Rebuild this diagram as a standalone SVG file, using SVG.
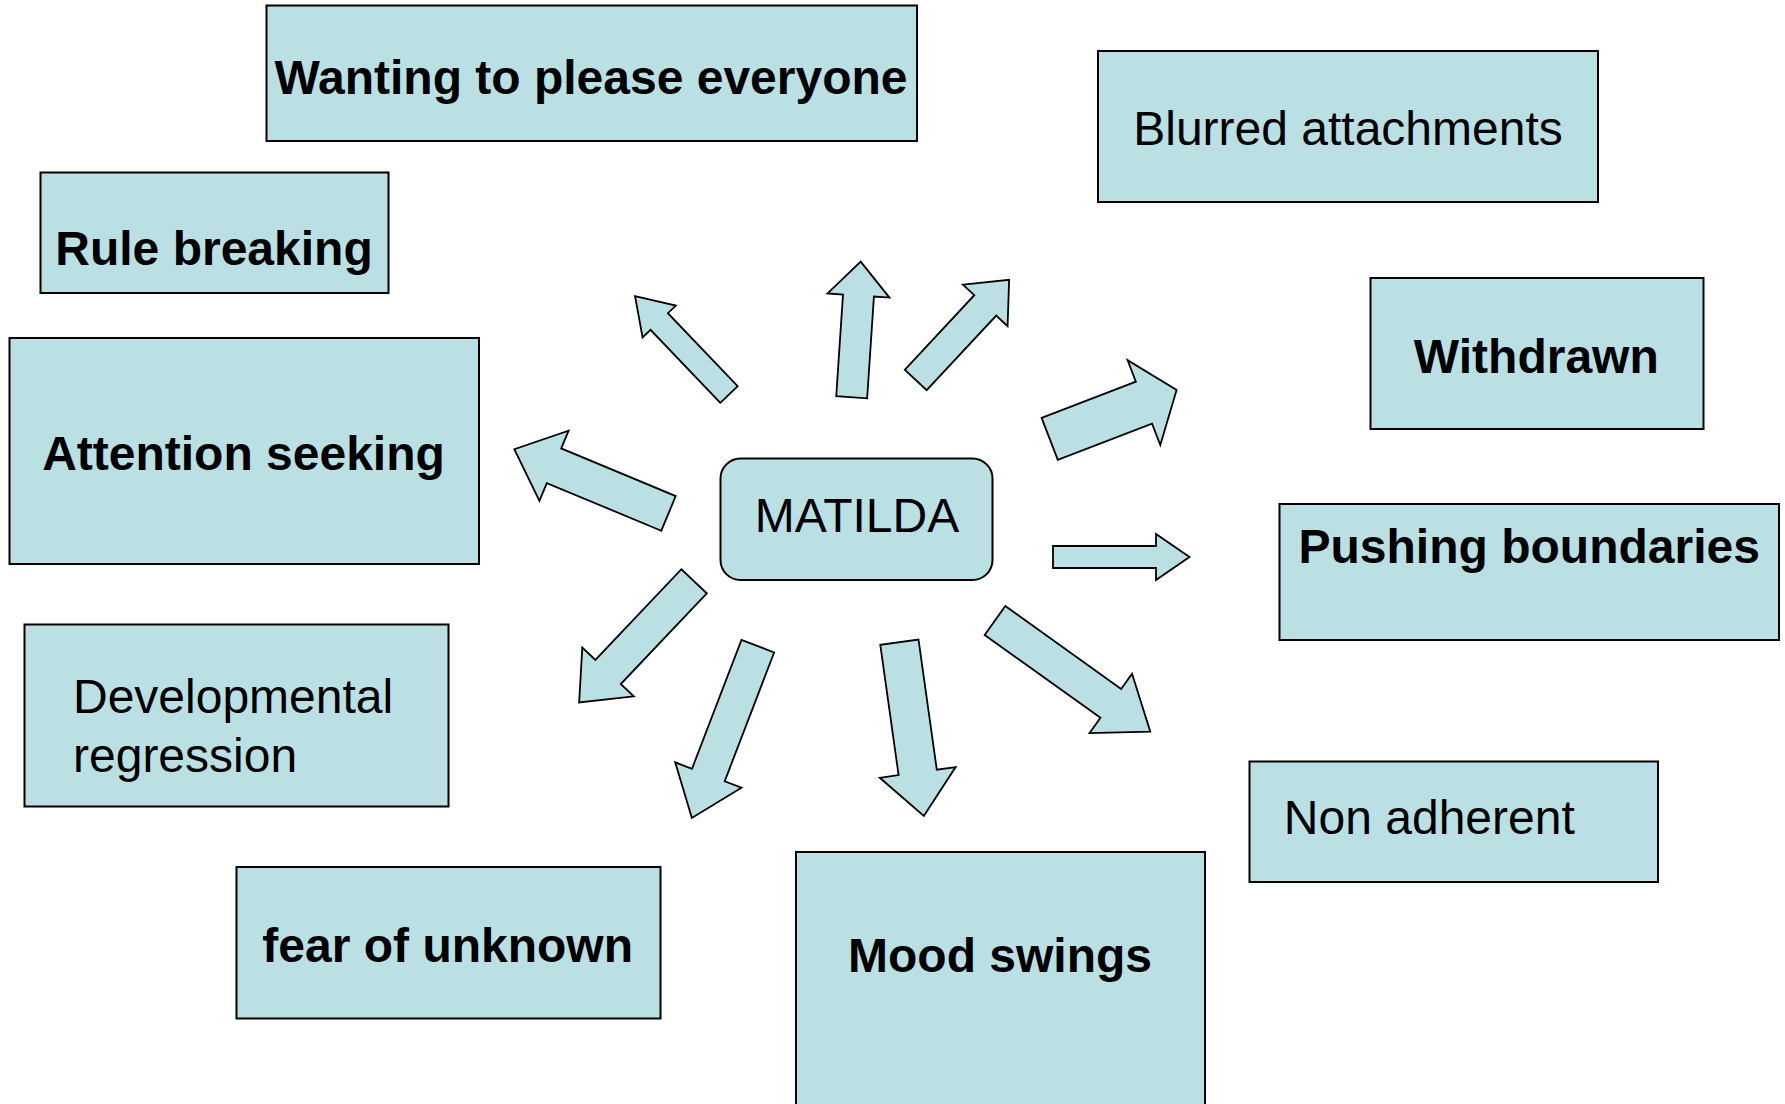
<svg xmlns="http://www.w3.org/2000/svg" width="1785" height="1104" viewBox="0 0 1785 1104">
<style>
.box{fill:#bbe0e3;stroke:#000;stroke-width:2}
.arr{fill:#bbe0e3;stroke:#000;stroke-width:1.8;stroke-linejoin:miter}
.t{font-family:"Liberation Sans",Arial,sans-serif;font-size:48px;fill:#000}
.b{font-weight:bold}
.c{text-anchor:middle}
</style>
<rect width="1785" height="1104" fill="#fff"/>
<g id="connectors">
<polygon class="arr" points="0,-12 101,-12 101,-23 136,0 101,23 101,12 0,12" transform="translate(729,394.5) rotate(-133.7)"/>
<polygon class="arr" points="0,-15.5 102,-15.5 102,-31 136,0 102,31 102,15.5 0,15.5" transform="translate(851.7,397.3) rotate(-86.2)"/>
<polygon class="arr" points="0,-15 102,-15 102,-30.5 137,0 102,30.5 102,15 0,15" transform="translate(915.7,380) rotate(-47)"/>
<polygon class="arr" points="0,-18.75 124,-18.75 124,-38 167,0 124,38 124,18.75 0,18.75" transform="translate(668.5,513.4) rotate(202.6)"/>
<polygon class="arr" points="0,-22.5 101,-22.5 101,-45.5 136,0 101,45.5 101,22.5 0,22.5" transform="translate(1049.7,438.9) rotate(-21.06)"/>
<polygon class="arr" points="1053,546 1156,546 1156,534 1189.5,557 1156,580 1156,568 1053,568"/>
<polygon class="arr" points="0,-17.5 125,-17.5 125,-35.5 167,0 125,35.5 125,17.5 0,17.5" transform="translate(694.1,581.3) rotate(133.5)"/>
<polygon class="arr" points="0,-17.5 138,-17.5 138,-35.5 184,0 138,35.5 138,17.5 0,17.5" transform="translate(757.8,646.2) rotate(111)"/>
<polygon class="arr" points="0,-19.3 131.5,-19.3 131.5,-38.3 175.5,0 131.5,38.3 131.5,19.3 0,19.3" transform="translate(899.4,642.2) rotate(82)"/>
<polygon class="arr" points="0,-17.75 142.4,-17.75 142.4,-36.5 191,0 142.4,36.5 142.4,17.75 0,17.75" transform="translate(995,620.5) rotate(35.6)"/>
</g>
<g id="matilda">
<rect class="box" x="720.5" y="458.5" width="272" height="121.5" rx="20" ry="20"/>
<text class="t c" x="857" y="532">MATILDA</text>
</g>
<g id="wanting">
<rect class="box" x="266.5" y="5.5" width="650.5" height="135.5"/>
<text class="t b c" x="591" y="94">Wanting to please everyone</text>
</g>
<g id="rule-breaking">
<rect class="box" x="40.5" y="172.5" width="348" height="120.5"/>
<text class="t b c" x="214" y="265">Rule breaking</text>
</g>
<g id="attention-seeking">
<rect class="box" x="9.5" y="338" width="469.5" height="226"/>
<text class="t b c" x="243.5" y="470">Attention seeking</text>
</g>
<g id="developmental-regression">
<rect class="box" x="24.5" y="624.5" width="424" height="182"/>
<text class="t" x="73" y="712.5">Developmental</text>
<text class="t" x="73" y="771.5">regression</text>
</g>
<g id="fear-of-unknown">
<rect class="box" x="236.5" y="867" width="424" height="151.5"/>
<text class="t b c" x="447.7" y="961.5">fear of unknown</text>
</g>
<g id="mood-swings">
<rect class="box" x="796" y="852" width="409" height="270"/>
<text class="t b c" x="1000" y="971.5">Mood swings</text>
</g>
<g id="non-adherent">
<rect class="box" x="1249.5" y="761.5" width="408.5" height="120.5"/>
<text class="t c" x="1429.3" y="834.3">Non adherent</text>
</g>
<g id="withdrawn">
<rect class="box" x="1370.5" y="278" width="333" height="151"/>
<text class="t b c" x="1536.3" y="373.3">Withdrawn</text>
</g>
<g id="pushing-boundaries">
<rect class="box" x="1279.5" y="504" width="499.5" height="136"/>
<text class="t b c" x="1529.2" y="562.7">Pushing boundaries</text>
</g>
<g id="blurred-attachments">
<rect class="box" x="1098" y="51" width="500" height="151"/>
<text class="t c" x="1348" y="145">Blurred attachments</text>
</g>
</svg>
